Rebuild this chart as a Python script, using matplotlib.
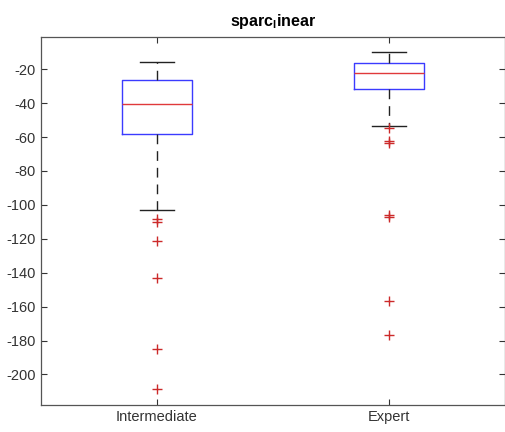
import matplotlib
matplotlib.use("Agg")
import matplotlib.pyplot as plt

categories = ["Intermediate", "Expert"]
medians = [-40.3, -22.5]
q1 = [-58.4, -31.8]
q3 = [-26.5, -16.6]
whislo = [-103.2, -53.8]
whishi = [-16.0, -10.1]
fliers = [
    [-108.5, -110.0, -121.3, -143.4, -184.7, -208.5],
    [-54.6, -62.6, -63.4, -106.2, -106.9, -156.4, -177.0],
]
yticks = [-200, -180, -160, -140, -120, -100, -80, -60, -40, -20]

plt.rcParams["font.family"] = ["Liberation Sans", "DejaVu Sans"]
plt.rcParams["axes.unicode_minus"] = False

fig = plt.figure(figsize=(5.06, 4.32), dpi=100)
ax = fig.add_axes([0.081, 0.0625, 0.917, 0.852])

stats = []
for i, name in enumerate(categories):
    stats.append(dict(label=name, med=medians[i], q1=q1[i], q3=q3[i],
                      whislo=whislo[i], whishi=whishi[i], fliers=fliers[i]))

ax.bxp(stats, positions=[1, 2], widths=0.3, capwidths=0.15,
       boxprops=dict(color="#3b3bff", linewidth=1.0),
       medianprops=dict(color="#e0393b", linewidth=1.0),
       whiskerprops=dict(color="#222222", linewidth=1.0, linestyle=(0, (7, 5))),
       capprops=dict(color="#222222", linewidth=1.0),
       flierprops=dict(marker="+", markeredgecolor="#cc2a2a", markersize=7,
                       markeredgewidth=1.0, linestyle="none"))

ax.set_xlim(0.5, 2.5)
ax.set_ylim(-218, -1)
ax.set_yticks(yticks)
ax.set_xticks([1, 2])
ax.set_xticklabels(categories)
ax.tick_params(direction="in", top=True, right=True, length=4,
               labelsize=10.5, colors="#333333", width=0.8)
for s in ax.spines.values():
    s.set_color("#555555")
    s.set_linewidth(0.9)
ax.set_title("sparc$_{\\mathregular{l}}$inear", fontsize=11.5, fontweight="bold", pad=8)

fig.savefig("out.png", dpi=100)
